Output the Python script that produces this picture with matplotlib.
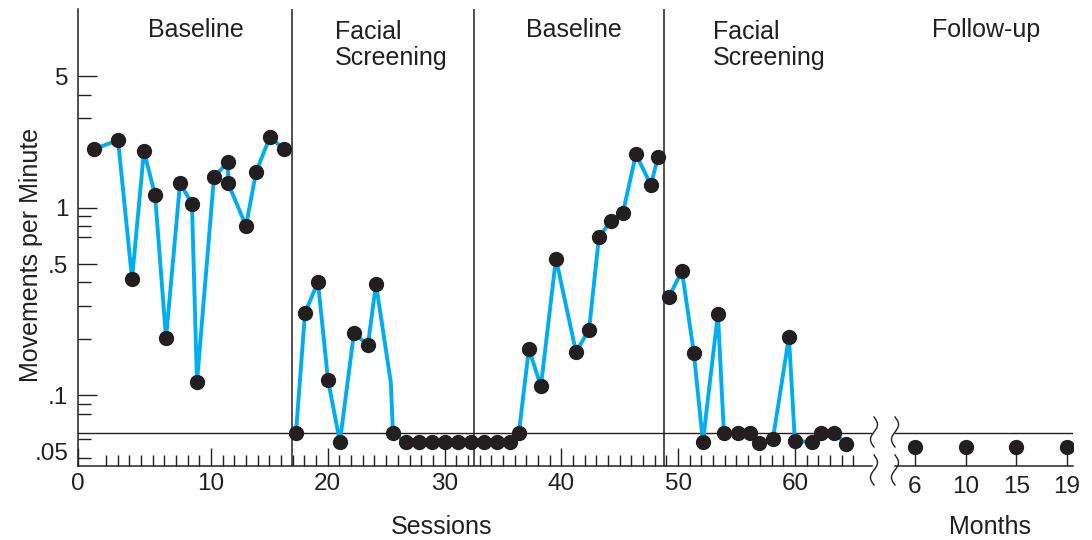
import numpy as np
import matplotlib
matplotlib.use('Agg')
from matplotlib import pyplot as plt

plt.rcParams['font.family'] = ['Liberation Sans', 'DejaVu Sans']

ink = '#231f20'
line_blue = '#00aeef'

# --- data (sessions, movements per minute) ---
baseline1_x = [0.0, 2.04, 3.24, 4.26, 5.21, 6.15, 7.35, 8.37, 8.80, 10.26,
               11.46, 11.46, 13.0, 13.86, 15.05, 16.26]
baseline1_y = [2.05, 2.29, 0.417, 2.00, 1.17, 0.202, 1.35, 1.05, 0.118, 1.46,
               1.75, 1.35, 0.80, 1.55, 2.38, 2.05]

# the vertex at 25.4 is a bend in the line without a dot
screening1_x = [17.28, 18.05, 19.16, 20.02, 21.04, 22.24, 23.44, 24.13, 25.4,
                25.58, 26.70, 27.81, 28.92, 30.03, 31.15, 32.26]
screening1_y = [0.0631, 0.275, 0.402, 0.121, 0.0565, 0.215, 0.186, 0.393, 0.117,
                0.0635, 0.0565, 0.0565, 0.0565, 0.0565, 0.0565, 0.0565]
screening1_dots = [0, 1, 2, 3, 4, 5, 6, 7, 9, 10, 11, 12, 13, 14, 15]

baseline2_x = [33.37, 34.48, 35.60, 36.37, 37.22, 38.25, 39.54, 41.25, 42.37,
               43.22, 44.25, 45.27, 46.39, 47.67, 48.27]
baseline2_y = [0.0565, 0.0565, 0.0565, 0.0635, 0.177, 0.112, 0.536, 0.171, 0.223,
               0.698, 0.850, 0.937, 1.93, 1.32, 1.86]

screening2_x = [49.21, 50.33, 51.35, 52.12, 53.41, 53.92, 55.12, 56.15, 56.92,
                58.12, 59.49, 60.00, 61.46, 62.23, 63.34, 64.37]
screening2_y = [0.335, 0.460, 0.168, 0.0565, 0.272, 0.0631, 0.0631, 0.0631, 0.0559,
                0.0588, 0.205, 0.0572, 0.0565, 0.0635, 0.0635, 0.0552]

followup_months = ['6', '10', '15', '19']
followup_y = [0.0532, 0.0532, 0.0532, 0.0532]

phase_bounds = [16.93, 32.56, 48.78]
zero_line = 0.0631

y_ticks = [5, 1, 0.5, 0.1, 0.05]
y_tick_labels = ['5', '1', '.5', '.1', '.05']
y_minor = [4, 3, 0.9, 0.8, 0.7, 0.4, 0.3, 0.2, 0.09, 0.08, 0.0587, 0.0465]
session_ticks = [0, 10, 20, 30, 40, 50, 60]

xlim1 = (-1.39, 66.6)
xlim2 = (-0.394, 3.116)
ylim = (0.0421, 11.43)

fig = plt.figure(figsize=(10.92, 5.40), dpi=100)
ax = fig.add_axes([0.0714, 0.137, 0.7271, 0.8463])
ax2 = fig.add_axes([0.8196, 0.137, 0.163, 0.8463])

for a in (ax, ax2):
    a.set_yscale('log')
    a.set_ylim(*ylim)
    a.spines['top'].set_visible(False)
    a.spines['right'].set_visible(False)
    a.spines['bottom'].set_color(ink)
    a.spines['bottom'].set_linewidth(1.1)
    a.axhline(zero_line, color=ink, lw=1.0, zorder=1)

ax.spines['left'].set_color(ink)
ax.spines['left'].set_linewidth(1.1)
ax2.spines['left'].set_visible(False)

# phase change lines
for b in phase_bounds:
    ax.axvline(b, color=ink, lw=1.1, zorder=1)

dot_kw = dict(color=ink, marker='o', markersize=10, linestyle='none', zorder=4)
line_kw = dict(color=line_blue, lw=2.8, zorder=3)

ax.plot(baseline1_x, baseline1_y, **line_kw)
ax.plot(baseline1_x, baseline1_y, **dot_kw)

ax.plot(screening1_x, screening1_y, **line_kw)
ax.plot([screening1_x[i] for i in screening1_dots],
        [screening1_y[i] for i in screening1_dots], **dot_kw)

ax.plot(baseline2_x, baseline2_y, **line_kw)
ax.plot(baseline2_x, baseline2_y, **dot_kw)

ax.plot(screening2_x, screening2_y, **line_kw)
ax.plot(screening2_x, screening2_y, **dot_kw)

# follow-up: dots on stems
fx = np.arange(len(followup_months))
ax2.vlines(fx, ylim[0], followup_y, color=ink, lw=1.0, zorder=2)
ax2.plot(fx, followup_y, **dot_kw)

# axes ticks
ax.set_xlim(*xlim1)
ax.set_xticks([xlim1[0]] + session_ticks[1:])
ax.set_xticklabels([str(t) for t in session_ticks])
ax.set_xticks([s for s in range(1, 66) if s % 10 != 0], minor=True)
ax.tick_params(axis='x', which='major', direction='in', length=13, width=1.0,
               color=ink, labelsize=17.5, labelcolor=ink, pad=5)
ax.tick_params(axis='x', which='minor', direction='in', length=8, width=1.0, color=ink)

ax.set_yticks(y_ticks)
ax.set_yticklabels(y_tick_labels)
ax.set_yticks(y_minor, minor=True)
ax.yaxis.set_minor_formatter(plt.NullFormatter())
ax.tick_params(axis='y', which='major', direction='in', length=14, width=1.0,
               color=ink, labelsize=17.5, labelcolor=ink, pad=7)
ax.tick_params(axis='y', which='minor', direction='in', length=9.5, width=1.0, color=ink)
ax.yaxis.get_major_ticks()[-1].tick1line.set_visible(False)

ax2.set_xlim(*xlim2)
ax2.set_xticks(fx)
ax2.set_xticklabels(followup_months)
ax2.tick_params(axis='x', length=0, labelsize=17.5, labelcolor=ink, pad=7)
ax2.set_yticks([])
ax2.set_yticks([], minor=True)

# phase titles
ax.text(8.7, 8.84, 'Baseline', ha='center', va='center', fontsize=18, color=ink)
ax.text(20.6, 7.35, 'Facial\nScreening', ha='left', va='center', fontsize=18,
        color=ink, linespacing=1.1)
ax.text(41.1, 8.84, 'Baseline', ha='center', va='center', fontsize=18, color=ink)
ax.text(53.0, 7.35, 'Facial\nScreening', ha='left', va='center', fontsize=18,
        color=ink, linespacing=1.1)
ax2.text(1.4, 8.84, 'Follow-up', ha='center', va='center', fontsize=18, color=ink)

# axis labels
fig.text(442 / 1092, 1 - 527 / 540, 'Sessions', ha='center', va='center',
         fontsize=18, color=ink)
fig.text(990 / 1092, 1 - 527 / 540, 'Months', ha='center', va='center',
         fontsize=18, color=ink)
fig.text(31 / 1092, 1 - 255 / 540, 'Movements per Minute', ha='center', va='center',
         rotation=90, fontsize=18, color=ink)

# axis break squiggles
t = np.linspace(0, 1, 60)
for xc in (874, 895):
    for y0, y1 in ((417, 447), (455, 485)):
        xs = (xc + 3.5 * np.sin(2 * np.pi * t)) / 1092
        ys = 1 - (y0 + (y1 - y0) * t) / 540
        fig.add_artist(plt.Line2D(xs, ys, color=ink, lw=1.0))

plt.savefig('out.png', dpi=100)
